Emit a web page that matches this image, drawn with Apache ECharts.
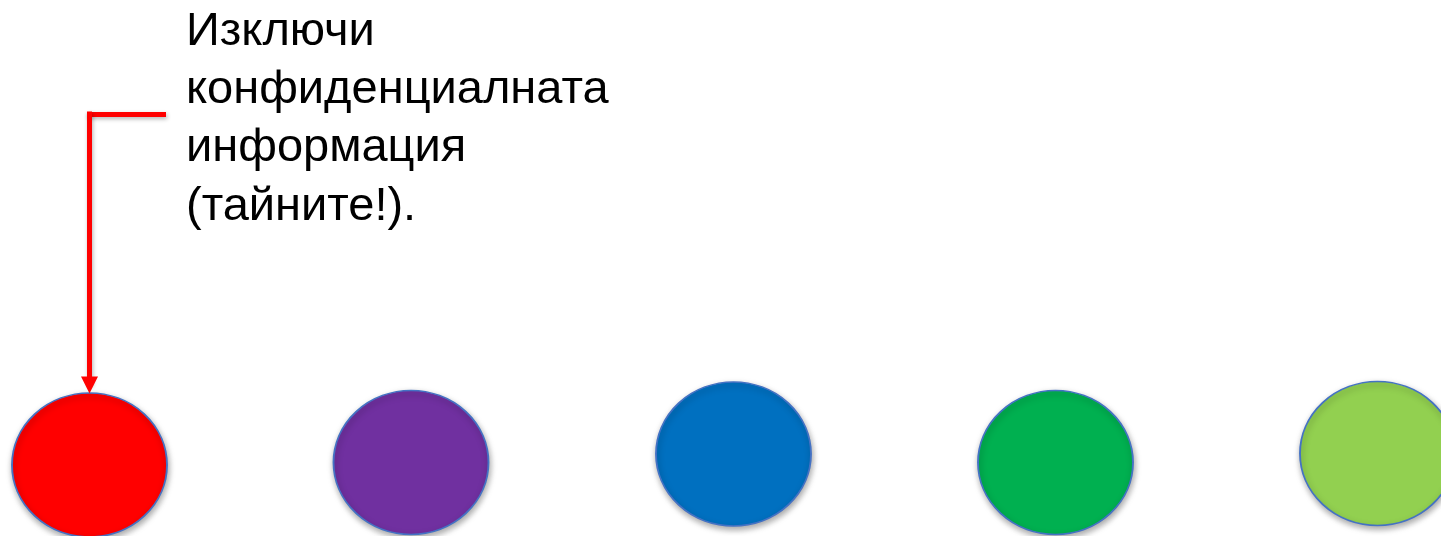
<!DOCTYPE html>
<html>
<head>
<meta charset="utf-8">
<script src="https://cdn.jsdelivr.net/npm/echarts@6/dist/echarts.min.js"></script>
<style>
html,body{margin:0;padding:0;background:#fff;}
#chart{width:1441px;height:536px;}
</style>
</head>
<body>
<div id="chart"></div>
<script>
// Circle categories and their colours
const names = ['Червен', 'Лилав', 'Син', 'Зелен', 'Светлозелен'];
const colors = ['#FF0000', '#7030A0', '#0070C0', '#00B050', '#92D050'];
// Circle centre positions (diagram units = px)
const xValues = [89.5, 411, 733.5, 1055.5, 1377.5];
const yValues = [465, 462.5, 454, 462.5, 453.5];
// Callout connector: horizontal leg and vertical leg (with arrow)
const calloutLeg1 = [[166, 114], [87, 114]];
const calloutLeg2 = [[89.5, 111.5], [89.5, 385]];
const calloutText = ['Изключи', 'конфиденциалната', 'информация', '(тайните!).'];

const legStyle = {
  color: '#FF0000', width: 5, opacity: 1, cap: 'butt',
  shadowColor: 'rgba(0,0,0,0.3)', shadowBlur: 4, shadowOffsetX: 1, shadowOffsetY: 2
};

const chart = echarts.init(document.getElementById('chart'));
chart.setOption({
  animation: false,
  grid: { left: 0, right: 0, top: 0, bottom: 0 },
  xAxis: { type: 'value', min: 0, max: 1441, show: false },
  yAxis: { type: 'value', min: 0, max: 536, inverse: true, show: false },
  series: [
    {
      type: 'scatter',
      symbol: 'circle',
      symbolSize: [155, 144],
      data: names.map((n, i) => ({
        name: n,
        value: [xValues[i], yValues[i]],
        itemStyle: {
          color: colors[i],
          opacity: 1,
          borderColor: '#4472C4',
          borderWidth: 1.8,
          shadowColor: 'rgba(0,0,0,0.35)',
          shadowBlur: 6,
          shadowOffsetX: 1,
          shadowOffsetY: 3
        }
      })),
      z: 2
    },
    {
      type: 'lines',
      coordinateSystem: 'cartesian2d',
      symbol: ['none', 'none'],
      lineStyle: legStyle,
      data: [{ coords: calloutLeg1 }],
      z: 3
    },
    {
      type: 'lines',
      coordinateSystem: 'cartesian2d',
      symbol: ['none', 'triangle'],
      symbolSize: [0, 17],
      lineStyle: legStyle,
      data: [{ coords: calloutLeg2 }],
      z: 3
    }
  ],
  graphic: [{
    type: 'text',
    left: 186,
    top: 2.5,
    style: {
      text: calloutText.join('\n'),
      font: '47px "Liberation Sans", Arial, sans-serif',
      lineHeight: 58.3,
      fill: '#000000'
    }
  }]
});
</script>
</body>
</html>
